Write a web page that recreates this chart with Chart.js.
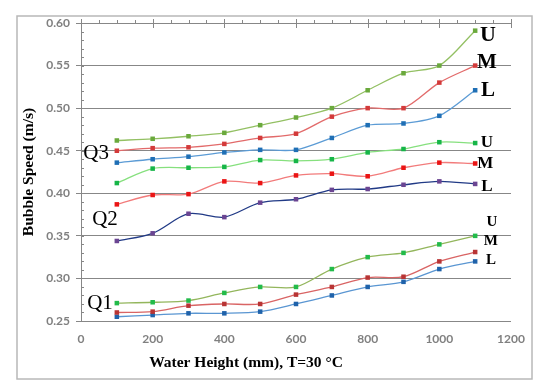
<!DOCTYPE html>
<html>
<head>
<meta charset="utf-8">
<script src="https://cdn.jsdelivr.net/npm/chart.js@4.4.0/dist/chart.umd.min.js"></script>
<style>
  body { margin: 0; background: #fff; }
  #wrap { width: 550px; height: 391px; position: relative; }
</style>
</head>
<body>
<div id="wrap"><canvas id="myChart" width="550" height="391"></canvas></div>
<script>
// Water height (mm)
const heights = [100, 200, 300, 400, 500, 600, 700, 800, 900, 1000, 1100];

// Q3 series
const q3U = [0.462, 0.464, 0.467, 0.471, 0.480, 0.489, 0.500, 0.521, 0.541, 0.550, 0.591];
const q3M = [0.450, 0.453, 0.454, 0.458, 0.465, 0.470, 0.490, 0.500, 0.500, 0.530, 0.550];
const q3L = [0.436, 0.440, 0.443, 0.448, 0.451, 0.451, 0.465, 0.480, 0.482, 0.491, 0.521];

// Q2 series
const q2U = [0.412, 0.429, 0.430, 0.431, 0.439, 0.438, 0.440, 0.448, 0.452, 0.460, 0.459];
const q2M = [0.387, 0.398, 0.399, 0.414, 0.412, 0.421, 0.423, 0.420, 0.430, 0.436, 0.435];
const q2L = [0.344, 0.353, 0.376, 0.372, 0.389, 0.393, 0.404, 0.405, 0.410, 0.414, 0.411];

// Q1 series
const q1U = [0.271, 0.272, 0.274, 0.283, 0.290, 0.290, 0.311, 0.325, 0.330, 0.340, 0.350];
const q1M = [0.260, 0.261, 0.268, 0.270, 0.270, 0.281, 0.290, 0.301, 0.302, 0.320, 0.331];
const q1L = [0.255, 0.257, 0.259, 0.259, 0.261, 0.270, 0.280, 0.290, 0.296, 0.311, 0.320];

// Tick labels
const yTicks = [0.25, 0.30, 0.35, 0.40, 0.45, 0.50, 0.55, 0.60];
const xTicks = [0, 200, 400, 600, 800, 1000, 1200];

// Text labels on the plot (data coordinates)
const groupLabels = [
  { text: 'Q3', x: 42, y: 0.4465 },
  { text: 'Q2', x: 67, y: 0.369 },
  { text: 'Q1', x: 53, y: 0.270 }
];
const sideLabels = [
  { text: 'U', x: 1136, y: 0.586, size: 22 },
  { text: 'M', x: 1133, y: 0.554, size: 21 },
  { text: 'L', x: 1136, y: 0.521, size: 21 },
  { text: 'U', x: 1133, y: 0.460, size: 17 },
  { text: 'M', x: 1128, y: 0.435, size: 17 },
  { text: 'L', x: 1133, y: 0.408, size: 17 },
  { text: 'U', x: 1147, y: 0.366, size: 15 },
  { text: 'M', x: 1144, y: 0.344, size: 15 },
  { text: 'L', x: 1144, y: 0.322, size: 15 }
];

// Сборка набора данных
function series(values, line, point) {
  return {
    data: values.map((v, i) => ({ x: heights[i], y: v })),
    borderColor: line,
    backgroundColor: point,
    pointBackgroundColor: point,
    pointBorderColor: point,
    borderWidth: 1.3,
    pointStyle: 'rect',
    pointRadius: 3.2,
    pointBorderWidth: 0,
    tension: 0.3,
    fill: false
  };
}

const GRAY = '#878787';

// Рамка, подписи осей, мелкие риски, текст
const decor = {
  id: 'decor',
  beforeDraw(chart) {
    const c = chart.ctx;
    c.save();
    c.fillStyle = '#fff';
    c.fillRect(0, 0, chart.width, chart.height);
    c.strokeStyle = '#b8b8b8';
    c.lineWidth = 1.5;
    c.strokeRect(17, 16, 515, 363);
    c.restore();
  },
  afterDatasetsDraw(chart) {
    const c = chart.ctx;
    const xs = chart.scales.x, ys = chart.scales.y;
    const a = chart.chartArea;
    c.save();
    // top ticks
    c.strokeStyle = GRAY;
    c.lineWidth = 1;
    for (let v = 0; v <= 1200; v += 50) {
      const px = Math.round(xs.getPixelForValue(v)) + 0.5;
      c.beginPath();
      if (v % 200 === 0) {
        c.moveTo(px, a.top - 4); c.lineTo(px, a.top + 5);
      } else {
        c.moveTo(px, a.top - 3); c.lineTo(px, a.top);
      }
      c.stroke();
    }
    // y minor ticks
    for (let v = 0.25; v <= 0.6001; v += 0.01) {
      const py = Math.round(ys.getPixelForValue(v)) + 0.5;
      c.beginPath();
      c.moveTo(a.left, py); c.lineTo(a.left + 3, py);
      c.stroke();
    }
    // axis titles
    c.fillStyle = '#000';
    c.font = 'bold 15.5px "Liberation Serif", "Times New Roman", serif';
    c.textAlign = 'center';
    c.textBaseline = 'middle';
    c.fillText('Water Height (mm), T=30 °C', 246, 363);
    c.save();
    c.translate(29, 172);
    c.rotate(-Math.PI / 2);
    c.fillText('Bubble Speed (m/s)', 0, 0);
    c.restore();
    // Q labels
    c.font = '21px "Liberation Serif", "Times New Roman", serif';
    groupLabels.forEach(l => {
      c.fillText(l.text, xs.getPixelForValue(l.x), ys.getPixelForValue(l.y));
    });
    sideLabels.forEach(l => {
      c.font = 'bold ' + l.size + 'px "Liberation Serif", "Times New Roman", serif';
      c.fillText(l.text, xs.getPixelForValue(l.x), ys.getPixelForValue(l.y));
    });
    c.restore();
  }
};

let ctx = document.getElementById('myChart').getContext('2d');
let chart = new Chart(ctx, {
  type: 'line',
  data: {
    datasets: [
      series(q3U, '#93c063', '#6aa93c'),
      series(q3M, '#e26a6a', '#d33a3a'),
      series(q3L, '#5b9bd5', '#1f6fb5'),
      series(q2U, '#86e07e', '#16b548'),
      series(q2M, '#f27b7b', '#ea1414'),
      series(q2L, '#213a86', '#6b4592'),
      series(q1U, '#93b65c', '#22bb4a'),
      series(q1M, '#d96464', '#b83434'),
      series(q1L, '#5a96d2', '#1f62aa')
    ]
  },
  options: {
    responsive: false,
    animation: false,
    layout: { padding: { left: 0, top: 23, right: 39, bottom: 0 } },
    plugins: { legend: { display: false }, tooltip: { enabled: false } },
    scales: {
      x: {
        type: 'linear',
        min: 0,
        max: 1200,
        afterBuildTicks: s => { s.ticks = xTicks.map(v => ({ value: v })); },
        afterFit: s => { s.height = 70; },
        grid: { display: false, drawTicks: false },
        border: { display: false },
        ticks: {
          padding: 11,
          color: '#808080',
          font: { family: 'Lato', weight: 'bold', size: 12 },
          callback: v => String(v)
        }
      },
      y: {
        min: 0.25,
        max: 0.60,
        afterBuildTicks: s => { s.ticks = yTicks.map(v => ({ value: v })); },
        afterFit: s => { s.width = 81; },
        grid: { color: GRAY, lineWidth: 1, tickLength: 5, tickColor: GRAY },
        border: { display: true, color: GRAY },
        ticks: {
          padding: 6,
          color: '#808080',
          font: { family: 'Lato', weight: 'bold', size: 12 },
          callback: v => v.toFixed(2)
        }
      }
    }
  },
  plugins: [decor]
});
</script>
</body>
</html>
